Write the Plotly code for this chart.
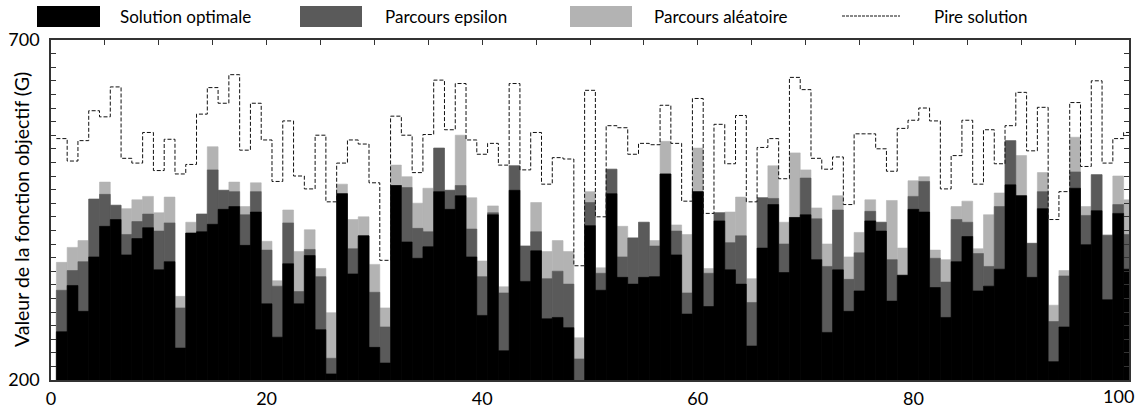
import plotly.graph_objects as go

# ---------------- data ----------------
instances = list(range(1, 101))

optimal = [271, 339, 301, 381, 426, 436, 384, 408, 424, 362,
           374, 247, 416, 418, 429, 451, 455, 398, 447, 312,
           263, 371, 312, 383, 274, 209, 474, 356, 412, 248,
           225, 486, 403, 379, 396, 477, 451, 471, 381, 295,
           443, 243, 479, 345, 390, 290, 292, 277, 198, 427,
           332, 474, 351, 341, 351, 352, 503, 384, 297, 477,
           308, 434, 362, 341, 250, 394, 458, 358, 439, 443,
           377, 270, 362, 301, 331, 434, 419, 316, 354, 451,
           447, 336, 292, 374, 411, 331, 338, 363, 487, 471,
           351, 452, 227, 278, 482, 399, 449, 318, 445, 363]

epsilon = [332, 361, 374, 466, 473, 457, 414, 433, 444, 419,
           431, 306, 416, 444, 509, 479, 477, 443, 477, 391,
           338, 431, 330, 392, 352, 232, 474, 393, 412, 329,
           278, 486, 483, 423, 418, 541, 479, 486, 422, 352,
           446, 328, 515, 397, 418, 349, 360, 341, 231, 461,
           357, 510, 381, 409, 432, 397, 503, 419, 328, 477,
           357, 446, 402, 412, 314, 468, 467, 400, 439, 497,
           437, 367, 450, 348, 387, 448, 432, 377, 354, 470,
           492, 379, 344, 436, 432, 386, 367, 455, 552, 471,
           401, 477, 286, 353, 506, 442, 502, 413, 458, 414]

random_walk = [373, 395, 405, 466, 491, 457, 452, 465, 470, 446,
               469, 323, 432, 444, 543, 479, 491, 455, 490, 404,
               346, 450, 389, 421, 364, 299, 488, 436, 440, 370,
               306, 516, 499, 460, 482, 541, 479, 560, 468, 375,
               456, 337, 515, 397, 461, 389, 405, 389, 262, 477,
               365, 510, 426, 409, 432, 405, 551, 428, 414, 541,
               364, 446, 447, 469, 349, 468, 515, 432, 534, 509,
               453, 400, 471, 381, 417, 465, 432, 464, 394, 493,
               499, 391, 377, 455, 463, 393, 443, 475, 552, 530,
               401, 505, 310, 361, 557, 455, 502, 413, 500, 465]

worst = [555, 522, 552, 596, 587, 631, 526, 519, 564, 508,
         554, 503, 517, 591, 630, 607, 649, 538, 607, 553,
         492, 581, 500, 481, 560, 462, 519, 553, 547, 490,
         376, 588, 560, 505, 561, 641, 568, 636, 553, 532,
         548, 516, 636, 509, 564, 488, 527, 525, 368, 626,
         440, 574, 571, 532, 548, 546, 604, 548, 463, 614,
         445, 576, 518, 589, 462, 542, 555, 496, 645, 627,
         526, 510, 528, 458, 562, 562, 540, 507, 570, 582,
         600, 581, 481, 530, 582, 488, 568, 518, 574, 623,
         537, 601, 436, 477, 608, 514, 640, 519, 555, 564]

series_names = ["Solution optimale", "Parcours epsilon", "Parcours aléatoire", "Pire solution"]
x_tick_vals = list(range(0, 101, 20))
x_tick_text = ["0", "20", "40", "60", "80", "100"]
x_minor_vals = list(range(0, 101, 5))
y_tick_vals = list(range(200, 701, 20))
y_tick_text = ["200"] + [""] * 24 + ["700"]
y_title = "Valeur de la fonction objectif (G)"

# ---------------- styling ----------------
FONT = "Lato"
C_OPT = "#000000"
C_EPS = "#5a5a5a"
C_RND = "#b3b3b3"
C_AXIS = "#333333"

W, H = 1144, 412
ML, MR, MT, MB = 51, 15, 40, 32
PW, PH = W - ML - MR, H - MT - MB


def px_x(px):
    return (px - ML) / PW


def px_y(py):
    return (H - MB - py) / PH


fig = go.Figure()

for vals, col, name in [(random_walk, C_RND, series_names[2]),
                        (epsilon, C_EPS, series_names[1]),
                        (optimal, C_OPT, series_names[0])]:
    fig.add_trace(go.Bar(x=instances, y=vals, width=1, name=name,
                         marker=dict(color=col, line=dict(width=0.6, color=col))))

edges = [k - 0.5 for k in instances] + [instances[-1] + 0.5]
fig.add_trace(go.Scatter(x=edges, y=worst + [worst[-1]], mode="lines",
                         name=series_names[3], xaxis="x2", yaxis="y",
                         line=dict(shape="hv", color="#111111", width=1,
                                   dash="4px,2px")))

# the last x label is drawn slightly inward (as in the original) so it is not clipped
x_label_text = x_tick_text[:-1] + [""]

fig.update_layout(
    width=W, height=H,
    margin=dict(l=ML, r=MR, t=MT, b=MB, autoexpand=False),
    paper_bgcolor="white", plot_bgcolor="white",
    barmode="overlay", showlegend=False,
    font=dict(family=FONT, color="black"),
    xaxis=dict(range=[0, 100], tickvals=x_tick_vals, ticktext=x_label_text,
               ticks="", showline=True, linecolor=C_AXIS, linewidth=1.5,
               mirror=True, showgrid=False, zeroline=False, automargin=False,
               ticklabeloverflow="allow", ticklabelstandoff=2,
               tickfont=dict(family=FONT, size=18, color="black")),
    xaxis2=dict(range=[0, 100], overlaying="x", side="top", anchor="y",
                tickvals=x_minor_vals, ticks="inside", ticklen=5, tickwidth=1,
                tickcolor=C_AXIS, showticklabels=False, showgrid=False,
                zeroline=False, showline=False, automargin=False),
    yaxis=dict(range=[200, 700], tickvals=y_tick_vals, ticktext=y_tick_text,
               ticks="inside", ticklen=5, tickwidth=1, tickcolor=C_AXIS,
               showline=True, linecolor=C_AXIS, linewidth=1.5, mirror="ticks",
               showgrid=False, zeroline=False, automargin=False,
               ticklabeloverflow="allow", ticklabelstandoff=6,
               tickfont=dict(family=FONT, size=18, color="black")),
)

fig.add_annotation(xref="x", yref="paper", x=x_tick_vals[-1], y=0,
                   xanchor="right", yanchor="top", xshift=7, yshift=-3,
                   text=x_tick_text[-1], showarrow=False,
                   font=dict(family=FONT, size=18, color="black"))

# y-axis title
fig.add_annotation(xref="paper", yref="paper", x=px_x(21), y=0.5,
                   xanchor="center", yanchor="middle",
                   text=y_title, textangle=-90, showarrow=False,
                   font=dict(family=FONT, size=19.5, color="black"))

# custom legend
legend_items = [
    (C_OPT, 37, 100, 118, series_names[0]),
    (C_EPS, 300, 362, 383, series_names[1]),
    (C_RND, 570, 632, 652, series_names[2]),
]
for col, x0, x1, tx, name in legend_items:
    fig.add_shape(type="rect", xref="paper", yref="paper",
                  x0=px_x(x0), x1=px_x(x1), y0=px_y(27), y1=px_y(6),
                  fillcolor=col, line=dict(width=0))
    fig.add_annotation(xref="paper", yref="paper", x=px_x(tx), y=px_y(16),
                       xanchor="left", yanchor="middle", text=name,
                       showarrow=False,
                       font=dict(family=FONT, size=17, color="black"))
fig.add_shape(type="line", xref="paper", yref="paper",
              x0=px_x(842), x1=px_x(900), y0=px_y(16), y1=px_y(16),
              line=dict(color="#111111", width=1, dash="3px,1px"))
fig.add_annotation(xref="paper", yref="paper", x=px_x(932), y=px_y(16),
                   xanchor="left", yanchor="middle", text=series_names[3],
                   showarrow=False, font=dict(family=FONT, size=17, color="black"))

fig.write_html("out.html",
               config={"displayModeBar": False},
               post_script="document.body.style.margin='0px';"
                           "document.body.style.overflow='hidden';")
